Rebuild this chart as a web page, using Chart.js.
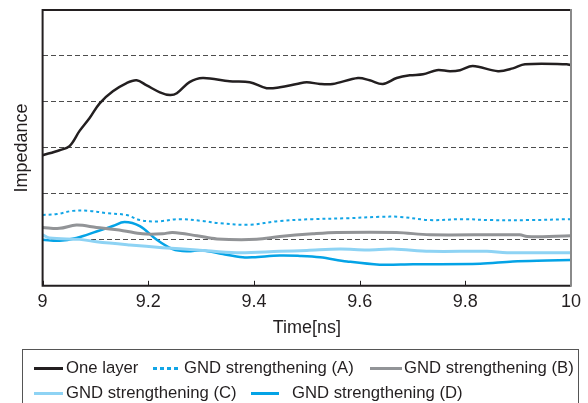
<!DOCTYPE html>
<html>
<head>
<meta charset="utf-8">
<script src="https://cdn.jsdelivr.net/npm/chart.js@4/dist/chart.umd.min.js"></script>
<style>
html,body{margin:0;padding:0;background:#fff;overflow:hidden;}
#wrap{position:relative;width:588px;height:403px;overflow:hidden;}
#c{position:absolute;left:0;top:0;}
#legend{position:absolute;left:22px;top:349px;width:555px;height:80px;border:1px solid #555;}
.sw{position:absolute;height:3px;}
.lt{position:absolute;font-family:'Liberation Sans',Arial,Helvetica,sans-serif;font-size:16.7px;line-height:20px;color:#231f20;white-space:nowrap;}
</style>
</head>
<body>
<div id="wrap"><canvas id="c" width="588" height="403"></canvas><div id="legend"></div></div>
<script>
// ---- data ----
const xTicks = [9, 9.2, 9.4, 9.6, 9.8, 10];
const seriesNames = ["One layer", "GND strengthening (A)", "GND strengthening (B)", "GND strengthening (C)", "GND strengthening (D)"];

const tOne = [9.000, 9.032, 9.051, 9.070, 9.089, 9.108, 9.133, 9.159, 9.178, 9.197, 9.222, 9.241, 9.254, 9.278, 9.303, 9.354, 9.392, 9.424, 9.449, 9.481, 9.500, 9.525, 9.549, 9.597, 9.619, 9.644, 9.670, 9.695, 9.720, 9.746, 9.771, 9.790, 9.814, 9.862, 9.890, 9.913, 9.992, 10.000];
const vOne = [2.84, 2.95, 3.04, 3.37, 3.65, 3.97, 4.23, 4.41, 4.47, 4.36, 4.21, 4.15, 4.19, 4.43, 4.52, 4.45, 4.43, 4.30, 4.32, 4.39, 4.43, 4.39, 4.39, 4.52, 4.47, 4.39, 4.52, 4.58, 4.60, 4.69, 4.67, 4.69, 4.78, 4.67, 4.73, 4.82, 4.82, 4.80];

const tA = [9.000, 9.027, 9.057, 9.089, 9.121, 9.159, 9.184, 9.216, 9.259, 9.303, 9.335, 9.392, 9.449, 9.511, 9.576, 9.638, 9.676, 9.733, 9.795, 9.847, 9.922, 10.000];
const vA = [1.54, 1.56, 1.63, 1.63, 1.58, 1.54, 1.43, 1.40, 1.45, 1.41, 1.36, 1.33, 1.41, 1.45, 1.47, 1.50, 1.50, 1.43, 1.45, 1.43, 1.43, 1.45];

const tB = [9.000, 9.032, 9.064, 9.102, 9.152, 9.189, 9.227, 9.246, 9.292, 9.330, 9.405, 9.449, 9.511, 9.557, 9.670, 9.733, 9.903, 9.917, 10.000];
const vB = [1.27, 1.25, 1.32, 1.27, 1.20, 1.13, 1.13, 1.16, 1.09, 1.02, 1.01, 1.07, 1.13, 1.16, 1.16, 1.11, 1.11, 1.07, 1.09];

const tC = [9.000, 9.013, 9.070, 9.102, 9.165, 9.227, 9.292, 9.367, 9.449, 9.500, 9.563, 9.614, 9.663, 9.733, 9.841, 9.879, 10.000];
const vC = [1.11, 1.04, 1.01, 0.96, 0.89, 0.83, 0.78, 0.72, 0.75, 0.77, 0.80, 0.78, 0.80, 0.75, 0.75, 0.72, 0.72];

const tD = [9.000, 9.032, 9.064, 9.102, 9.133, 9.155, 9.184, 9.216, 9.246, 9.273, 9.303, 9.341, 9.379, 9.398, 9.449, 9.487, 9.525, 9.576, 9.638, 9.701, 9.828, 9.890, 9.955, 10.000];
const vD = [1.00, 0.98, 1.04, 1.18, 1.30, 1.39, 1.30, 1.00, 0.80, 0.75, 0.77, 0.69, 0.62, 0.62, 0.66, 0.65, 0.62, 0.53, 0.46, 0.47, 0.48, 0.53, 0.55, 0.56];

const pts = (ts, vs) => ts.map((t, i) => ({x: t, y: vs[i]}));

const FONT = "'Liberation Sans', Arial, Helvetica, sans-serif";
const INK = '#231f20';

const framePlugin = {
  id: 'frame',
  afterDatasetsDraw(chart) {
    const {ctx, chartArea: a, scales} = chart;
    ctx.save();
    ctx.strokeStyle = INK; ctx.lineWidth = 1;
    xTicks.forEach(v => {
      const px = Math.round(scales.x.getPixelForValue(v)) + 0.5;
      ctx.beginPath(); ctx.moveTo(px, a.bottom); ctx.lineTo(px, a.bottom - 5); ctx.stroke();
    });
    ctx.lineWidth = 2; ctx.strokeStyle = INK;
    ctx.beginPath();
    ctx.moveTo(a.right, a.top); ctx.lineTo(a.left, a.top); ctx.lineTo(a.left, a.bottom); ctx.lineTo(a.right, a.bottom);
    ctx.stroke();
    ctx.strokeStyle = '#8a8a8a';
    ctx.beginPath(); ctx.moveTo(a.right, a.top - 1); ctx.lineTo(a.right, a.bottom + 1); ctx.stroke();
    ctx.restore();
  }
};

const chart = new Chart(document.getElementById('c'), {
  type: 'line',
  data: {
    datasets: [
      {label: seriesNames[0], data: pts(tOne, vOne), borderColor: INK, borderWidth: 2.5},
      {label: seriesNames[1], data: pts(tA, vA), borderColor: '#12a5e6', borderWidth: 2, borderDash: [3, 3], borderCapStyle: 'butt'},
      {label: seriesNames[2], data: pts(tB, vB), borderColor: '#929497', borderWidth: 3},
      {label: seriesNames[3], data: pts(tC, vC), borderColor: '#8ed3f4', borderWidth: 3},
      {label: seriesNames[4], data: pts(tD, vD), borderColor: '#04a3e6', borderWidth: 2.5}
    ]
  },
  options: {
    responsive: false,
    animation: false,
    devicePixelRatio: 1,
    layout: {padding: {top: 10, right: 17, left: 0, bottom: 64}},
    elements: {
      point: {radius: 0},
      line: {tension: 0.35, fill: false, borderCapStyle: 'round', borderJoinStyle: 'round'}
    },
    plugins: {
      tooltip: {enabled: false},
      legend: {display: false}
    },
    scales: {
      x: {
        type: 'linear',
        min: 9, max: 10,
        afterBuildTicks: (s) => { s.ticks = xTicks.map(v => ({value: v})); },
        ticks: {
          padding: 5,
          color: INK,
          font: {family: FONT, size: 18},
          callback: (v) => String(v)
        },
        grid: {display: false, drawTicks: false},
        border: {display: false},
        title: {display: true, text: 'Time[ns]', color: INK, font: {family: FONT, size: 18}, padding: {top: 0, bottom: 0}}
      },
      y: {
        min: 0, max: 6,
        ticks: {display: false, stepSize: 1},
        grid: {
          drawTicks: false,
          lineWidth: 1,
          color: (c) => (c.tick && (c.tick.value === 0 || c.tick.value === 6)) ? 'rgba(0,0,0,0)' : '#4d4d4d'
        },
        border: {display: false, dash: [5, 3]},
        title: {display: true, text: 'Impedance', color: INK, font: {family: FONT, size: 18}, padding: {top: 11, bottom: 10}}
      }
    }
  },
  plugins: [framePlugin]
});

// ---- HTML legend built from the datasets ----
const legendSlots = [
  {sx: 11, sw: 29, tx: 43, cy: 18},
  {sx: 130, sw: 26, tx: 161, cy: 18},
  {sx: 347, sw: 32, tx: 381, cy: 18},
  {sx: 11, sw: 29, tx: 43, cy: 43},
  {sx: 228, sw: 28, tx: 269, cy: 43}
];
const lg = document.getElementById('legend');
chart.data.datasets.forEach((ds, i) => {
  const s = legendSlots[i];
  const sw = document.createElement('div');
  sw.className = 'sw';
  sw.style.left = s.sx + 'px';
  sw.style.width = s.sw + 'px';
  sw.style.top = (s.cy - 1.5) + 'px';
  if (ds.borderDash) {
    sw.style.background = `repeating-linear-gradient(90deg, ${ds.borderColor} 0 4px, transparent 4px 7px)`;
  } else {
    sw.style.background = ds.borderColor;
  }
  lg.appendChild(sw);
  const t = document.createElement('span');
  t.className = 'lt';
  t.textContent = ds.label;
  t.style.left = s.tx + 'px';
  t.style.top = (s.cy - 10) + 'px';
  lg.appendChild(t);
});
</script>
</body>
</html>
